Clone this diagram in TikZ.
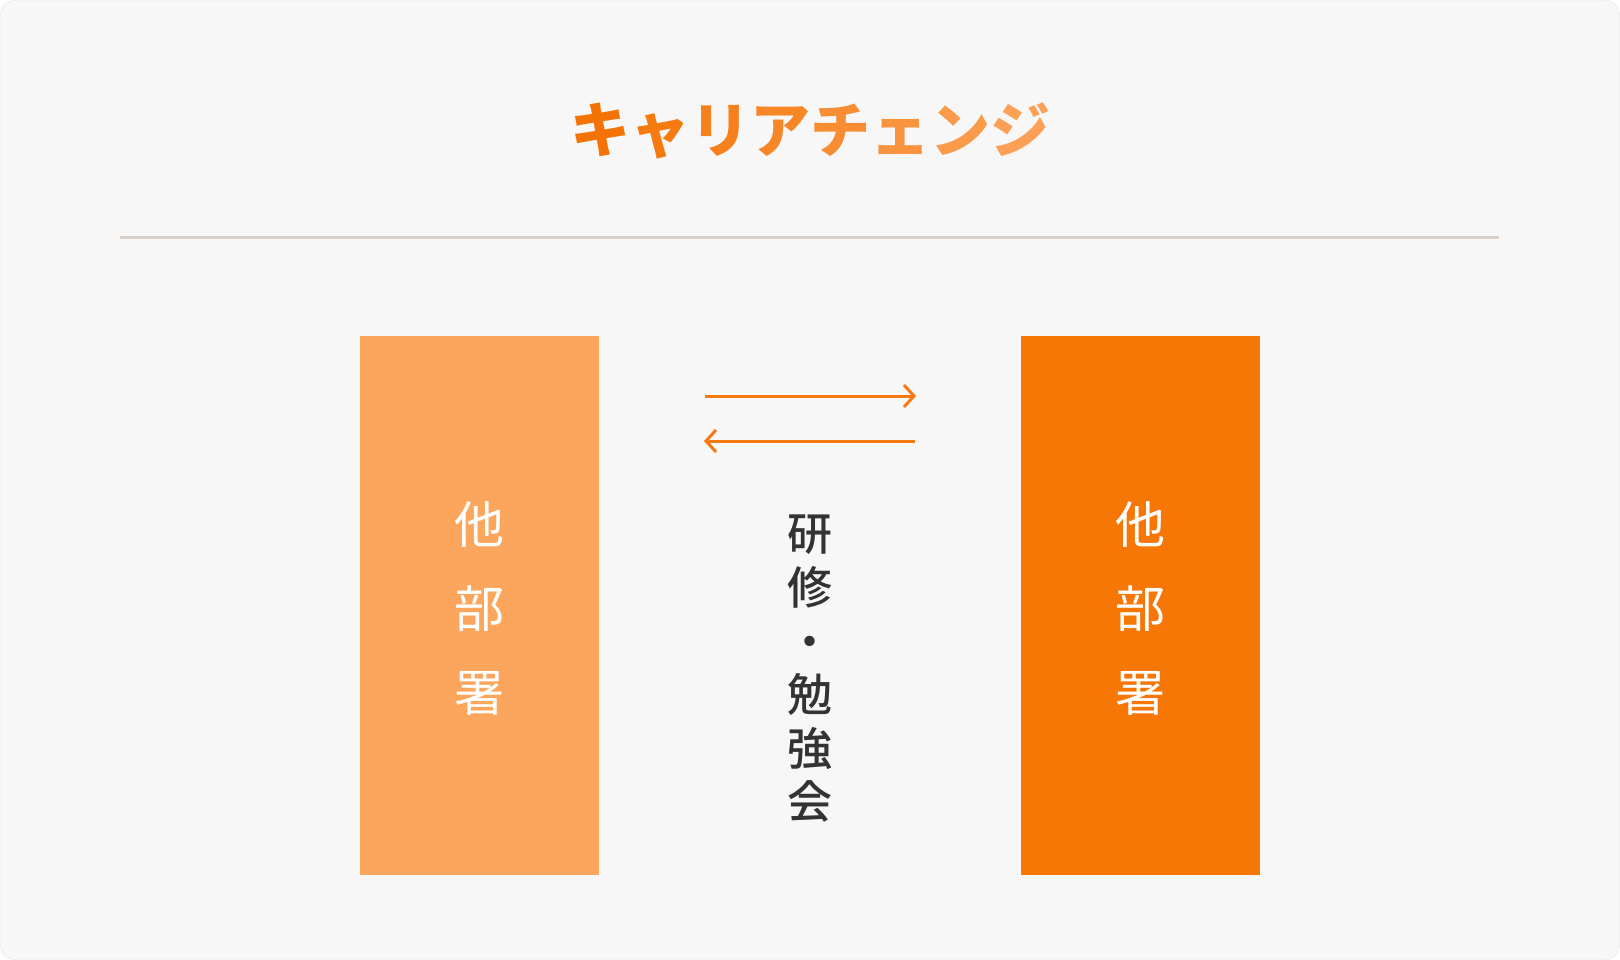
\documentclass[tikz,border=0pt]{standalone}
\usepackage{fontspec}
\newfontfamily\cjk{Noto Sans CJK JP}
\IfFontExistsTF{Noto Sans CJK JP Medium}{\newfontfamily\cjkmed{Noto Sans CJK JP Medium}}{\newfontfamily\cjkmed{Noto Sans CJK JP}}
\usetikzlibrary{arrows.meta}
\definecolor{panelbg}{HTML}{F7F7F7}
\definecolor{panelline}{HTML}{E4E4E4}
\definecolor{rulegray}{HTML}{D9D0CA}
\definecolor{titleA}{HTML}{F47304}
\definecolor{titleB}{HTML}{FBA055}
\definecolor{deptlight}{HTML}{FBA65C}
\definecolor{deptdark}{HTML}{F67606}
\definecolor{arrowline}{HTML}{F57A12}
\definecolor{inktext}{HTML}{333333}

\begin{document}
\begin{tikzpicture}[x=1pt, y=-1pt,
  dept/.style={minimum width=239pt, minimum height=539pt, inner sep=0pt, text=white, align=center, font=\cjk\fontsize{50}{84}\selectfont},
  flow/.style={draw=arrowline, line width=3pt, -{Straight Barb[length=10pt, width=22pt]}}]
	\useasboundingbox (0,0) rectangle (1620,960);
	\draw[rounded corners=14pt, fill=panelbg, draw=panelline] (0.5,0.5) rectangle (1619.5,959.5);
	% title
	\foreach \ch [count=\i from 0] in {キ,ャ,リ,ア,チ,ェ,ン,ジ} {
		\pgfmathtruncatemacro\mix{100-\i*100/7}
		\node[text=titleA!\mix!titleB, inner sep=0pt, text height=52pt, text depth=7pt, font=\cjk\bfseries\fontsize{60}{60}\selectfont] (title\i) at (600+\i*60,130) {\ch};
	}
	\coordinate (ruleL) at (120,238);
	\coordinate (ruleR) at (1499,238);
	\draw[rulegray, line width=3pt] (ruleL) -- (ruleR);
	% departments
	\node[dept, fill=deptlight] (deptL) at (479.5,605.5) {};
	\node[dept, fill=deptdark] (deptR) at (1140,605.5) {};
	\node[dept, fill=none] (deptLtext) at (479.5,609) {他\\部\\署};
	\node[dept, fill=none] (deptRtext) at (1140,609) {他\\部\\署};
	\coordinate (goS) at (705,396);
	\coordinate (goE) at (916,396);
	\coordinate (backS) at (915,441);
	\coordinate (backE) at (704,441);
	\draw[flow] (goS) -- (goE);
	\draw[flow] (backS) -- (backE);
	\node[text=inktext, align=center, inner sep=0pt, font=\cjkmed\fontsize{45}{53.6}\selectfont] (study) at (810,669) {研\\修\\・\\勉\\強\\会};
\end{tikzpicture}
\end{document}
